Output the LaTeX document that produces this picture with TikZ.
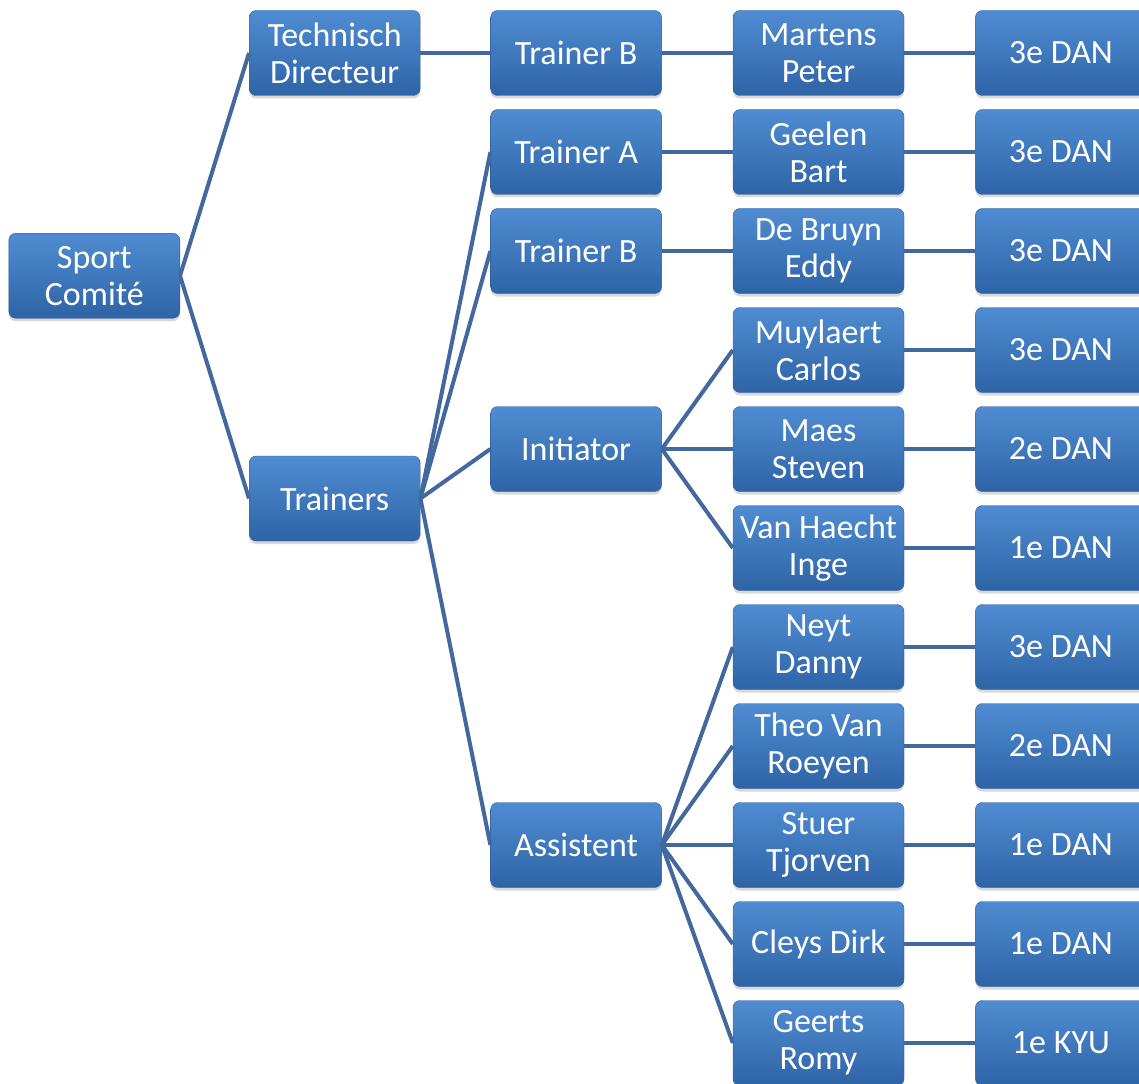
\documentclass[tikz,border=0pt]{standalone}
\usepackage{fontspec}
\setmainfont{Carlito}
\usetikzlibrary{calc, positioning, shadows}
\definecolor{boxtop}{RGB}{80,140,210}
\definecolor{boxbottom}{RGB}{46,100,166}
\definecolor{boxline}{RGB}{48,92,150}
\definecolor{linkblue}{RGB}{66,104,158}
\tikzstyle{box} = [draw=boxline, thin, rectangle, rounded corners=7pt, minimum width=171pt, minimum height=85pt, inner sep=0pt, align=center, text=white, font=\fontsize{34}{37}\selectfont, top color=boxtop, bottom color=boxbottom, drop shadow={shadow xshift=0pt, shadow yshift=-3pt, opacity=0.3}]
\tikzstyle{link} = [draw=linkblue, line width=4pt]

\begin{document}
\begin{tikzpicture}
    \useasboundingbox (0,0) rectangle (1139pt,-1083pt);

    % Members.
    \node (martens) [box] at (818.5pt,-53pt) {Martens\\Peter};
    \node (geelen) [box, below=13.6pt of martens] {Geelen\\Bart};
    \node (debruyn) [box, below=13.6pt of geelen] {De Bruyn\\Eddy};
    \node (muylaert) [box, below=13.6pt of debruyn] {Muylaert\\Carlos};
    \node (maes) [box, below=13.6pt of muylaert] {Maes\\Steven};
    \node (vanhaecht) [box, below=13.6pt of maes] {Van Haecht\\Inge};
    \node (neyt) [box, below=13.6pt of vanhaecht] {Neyt\\Danny};
    \node (theo) [box, below=13.6pt of neyt] {Theo Van\\Roeyen};
    \node (stuer) [box, below=13.6pt of theo] {Stuer\\Tjorven};
    \node (cleys) [box, below=13.6pt of stuer] {Cleys Dirk};
    \node (geerts) [box, below=13.6pt of cleys] {Geerts\\Romy};

    % Grades.
    \foreach \p/\g in {martens/3e DAN, geelen/3e DAN, debruyn/3e DAN, muylaert/3e DAN,
                       maes/2e DAN, vanhaecht/1e DAN, neyt/3e DAN, theo/2e DAN,
                       stuer/1e DAN, cleys/1e DAN, geerts/1e KYU} {
        \node (\p dan) [box, right=71pt of \p] {\g};
        \draw [link] (\p.east) -- (\p dan.west);
    }

    % Functions.
    \node (trainerb) [box, left=71pt of martens] {Trainer B};
    \node (trainera) [box, left=71pt of geelen] {Trainer A};
    \node (trainerbb) [box, left=71pt of debruyn] {Trainer B};
    \node (initiator) [box, left=71pt of maes] {Initiator};
    \node (assistent) [box, left=71pt of stuer] {Assistent};

    % Groups.
    \node (technisch) [box, left=70pt of trainerb] {Technisch\\Directeur};
    \node (trainers) [box] at ($(technisch |- maes)!0.5!(technisch |- vanhaecht)$) {Trainers};
    \coordinate (mid) at ($(technisch.west)!0.5!(trainers.west)$);
    \node (sport) [box, left=69pt of mid] {Sport\\Comité};

    % Arrows.
    \foreach \a/\b in {sport/technisch, sport/trainers, technisch/trainerb,
                       trainers/trainera, trainers/trainerbb, trainers/initiator, trainers/assistent,
                       trainerb/martens, trainera/geelen, trainerbb/debruyn,
                       initiator/muylaert, initiator/maes, initiator/vanhaecht,
                       assistent/neyt, assistent/theo, assistent/stuer, assistent/cleys, assistent/geerts} {
        \draw [link] (\a.east) -- (\b.west);
    }
\end{tikzpicture}
\end{document}
